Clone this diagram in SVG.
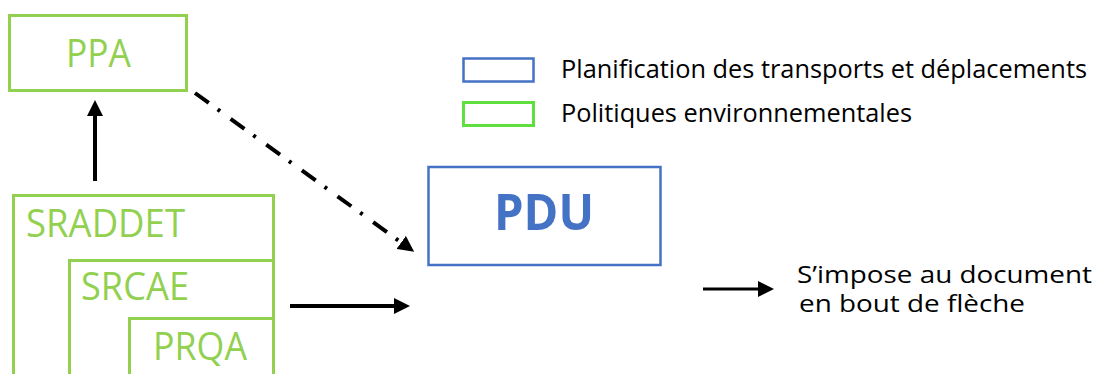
<svg xmlns="http://www.w3.org/2000/svg" width="1098" height="374" viewBox="0 0 1098 374">
<style>
  .green { fill: none; stroke: #92d050; stroke-width: 3; }
  .gtxt { font-family: "Open Sans", "Liberation Sans", sans-serif; font-size: 38px; fill: #92d050; }
  .blue { fill: none; stroke: #4472c4; stroke-width: 2.5; }
  .ltxt { font-family: "Open Sans", "Liberation Sans", sans-serif; font-size: 25px; fill: #000; }
  .note { font-family: "Open Sans", "Liberation Sans", sans-serif; font-size: 23px; fill: #000; }
  .conn { stroke: #000; stroke-width: 4; fill: none; }
</style>
<defs>
  <marker id="ah" viewBox="0 0 16 16" refX="1" refY="8" markerWidth="16" markerHeight="16" markerUnits="userSpaceOnUse" orient="auto">
    <path d="M0,0 L16,8 L0,16 z" fill="#000"/>
  </marker>
</defs>
<rect width="1098" height="374" fill="#fff"/>

<g id="legend">
  <rect x="463.5" y="58.5" width="70" height="23" fill="none" stroke="#4472c4" stroke-width="2.5"/>
  <text class="ltxt" x="561" y="78" textLength="526" lengthAdjust="spacingAndGlyphs">Planification des transports et déplacements</text>
  <rect x="463.5" y="102.5" width="70" height="23" fill="none" stroke="#5fe03f" stroke-width="3"/>
  <text class="ltxt" x="561" y="122" textLength="351" lengthAdjust="spacingAndGlyphs">Politiques environnementales</text>
  <line x1="703" y1="289" x2="759" y2="289" stroke="#000" stroke-width="3" marker-end="url(#ah)"/>
  <text class="note" x="797" y="283" textLength="295" lengthAdjust="spacingAndGlyphs">S’impose au document</text>
  <text class="note" x="799" y="312" textLength="226" lengthAdjust="spacingAndGlyphs">en bout de flèche</text>
</g>

<g id="PPA">
  <rect class="green" x="9.5" y="15.5" width="177" height="75"/>
  <text class="gtxt" x="66" y="67" textLength="65" lengthAdjust="spacingAndGlyphs">PPA</text>
</g>

<g id="SRADDET">
  <rect class="green" x="13.5" y="195.5" width="260" height="200"/>
  <text class="gtxt" x="26" y="237" textLength="159" lengthAdjust="spacingAndGlyphs">SRADDET</text>
</g>

<g id="SRCAE">
  <rect class="green" x="69.5" y="260.5" width="204" height="140"/>
  <text class="gtxt" x="81" y="300" textLength="108" lengthAdjust="spacingAndGlyphs">SRCAE</text>
</g>

<g id="PRQA">
  <rect class="green" x="129.5" y="318.5" width="144" height="80"/>
  <text class="gtxt" x="153" y="360" textLength="94" lengthAdjust="spacingAndGlyphs">PRQA</text>
</g>

<g id="PDU">
  <rect class="blue" x="428.5" y="167" width="232" height="98"/>
  <text x="494" y="230" font-family="'Open Sans', 'Liberation Sans', sans-serif" font-weight="bold" font-size="50" fill="#4472c4" textLength="100" lengthAdjust="spacingAndGlyphs">PDU</text>
</g>

<g id="connectors">
  <line class="conn" x1="95" y1="181" x2="95" y2="115" marker-end="url(#ah)"/>
  <line class="conn" x1="290" y1="306" x2="395" y2="306" marker-end="url(#ah)"/>
  <line class="conn" x1="195" y1="93" x2="402" y2="243" stroke-dasharray="17 11 3 13" marker-end="url(#ah)"/>
</g>
</svg>
